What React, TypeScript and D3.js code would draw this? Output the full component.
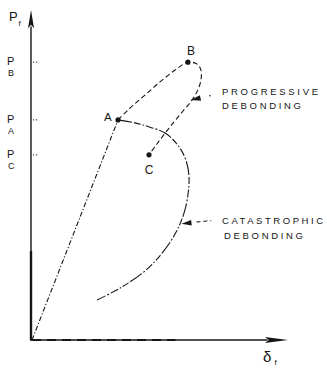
import React from "react";
import * as d3 from "d3";

// Fibre load Pf versus fibre displacement δf (arbitrary units)
const loadingX = [0, 3.36];
const loadingY = [0, 6.67];

// A → B → C : progressive debonding, loading then unloading path
const progressiveX = [3.36, 3.83, 4.41, 5.0, 5.59, 6.09, 6.45, 6.6, 6.6, 6.48, 6.25, 5.9, 5.55, 5.2, 4.88, 4.57];
const progressiveY = [6.67, 7.03, 7.42, 7.82, 8.18, 8.42, 8.36, 8.18, 7.88, 7.58, 7.27, 6.94, 6.61, 6.27, 5.94, 5.61];

// A → … : catastrophic debonding
const catastrophicX = [3.36, 4.02, 4.61, 5.2, 5.66, 5.98, 6.13, 6.09, 5.94, 5.63, 5.12, 4.41, 3.52, 2.54];
const catastrophicY = [6.67, 6.58, 6.45, 6.27, 5.94, 5.52, 5.0, 4.39, 3.85, 3.27, 2.67, 2.09, 1.61, 1.21];

// Characteristic points
const pointNames = ["A", "B", "C"];
const pointX = [3.36, 6.09, 4.57];
const pointY = [6.67, 8.42, 5.61];

// Load levels marked on the Pf axis (subscripts)
const tickSubs = ["B", "A", "C"];
const tickValues = [8.42, 6.67, 5.61];

// Annotations: [tipX, tipY, tailX, tailY]
const progressiveNote = ["PROGRESSIVE", "DEBONDING"];
const progressiveArrow = [6.2, 7.27, 6.95, 7.4];
const catastrophicNote = ["CATASTROPHIC", "DEBONDING"];
const catastrophicArrow = [5.84, 3.52, 7.0, 3.62];

const W = 327;
const H = 369;

export default function App() {
  const x = d3.scaleLinear().domain([0, 10]).range([32, 288]);
  const y = d3.scaleLinear().domain([0, 10]).range([340, 10]);

  const line = d3
    .line<[number, number]>()
    .x((d) => x(d[0]))
    .y((d) => y(d[1]))
    .curve(d3.curveCatmullRom.alpha(0.5));

  const zip = (xs: number[], ys: number[]) => xs.map((v, i) => [v, ys[i]] as [number, number]);

  const arrowHead = (a: number[], len = 10, half = 2.8) => {
    const tx = x(a[0]);
    const ty = y(a[1]);
    const fx = x(a[2]);
    const fy = y(a[3]);
    const dx = fx - tx;
    const dy = fy - ty;
    const n = Math.hypot(dx, dy);
    const ux = dx / n;
    const uy = dy / n;
    const bx = tx + ux * len;
    const by = ty + uy * len;
    const p = d3.path();
    p.moveTo(tx, ty);
    p.lineTo(bx - uy * half, by + ux * half);
    p.lineTo(bx + uy * half, by - ux * half);
    p.closePath();
    return { d: p.toString(), bx, by, fx, fy };
  };

  const pa = arrowHead(progressiveArrow);
  const ca = arrowHead(catastrophicArrow);

  const ink = "#161616";
  const font = "'Liberation Sans', Arial, sans-serif";

  const x0 = x(0);
  const y0 = y(0);

  return (
    <svg
      width={W}
      height={H}
      viewBox={`0 0 ${W} ${H}`}
      style={{ position: "absolute", left: 0, top: 0, background: "#fff" }}
    >
      {/* axes */}
      <line x1={x0 - 1} y1={y0} x2={x(9.2)} y2={y0} stroke={ink} strokeWidth={1.3} />
      <line x1={x0} y1={y0} x2={x(5.6)} y2={y0} stroke={ink} strokeWidth={2.2} strokeDasharray="9,6" />
      <path d={`M${x(10)},${y0} L${x(9.1)},${y0 - 3} L${x(9.25)},${y0} L${x(9.1)},${y0 + 3} Z`} fill={ink} />
      <line x1={x0 - 1} y1={y0 + 1} x2={x0 - 1} y2={y(9.5)} stroke={ink} strokeWidth={1.4} />
      <line x1={x0 - 1} y1={y0} x2={x0 - 1} y2={y(2.7)} stroke={ink} strokeWidth={2.4} />
      <path
        d={`M${x0 - 1},${y(10)} L${x0 - 4},${y(9.45)} L${x0 - 1},${y(9.55)} L${x0 + 2},${y(9.45)} Z`}
        fill={ink}
      />

      {/* axis titles */}
      <text x={9} y={21} fontFamily={font} fontSize={13} fill={ink}>
        P
      </text>
      <text x={18.5} y={26} fontFamily={font} fontSize={8} fill={ink}>
        f
      </text>
      <text x={263} y={362} fontFamily={font} fontSize={15} fill={ink}>
        δ
      </text>
      <text x={274.5} y={365} fontFamily={font} fontSize={8} fill={ink}>
        f
      </text>

      {/* load levels on the Pf axis */}
      {tickValues.map((v, i) => (
        <g key={i}>
          <line
            x1={x0 + 1}
            x2={x0 + 6}
            y1={y(v)}
            y2={y(v)}
            stroke={ink}
            strokeWidth={1}
            strokeDasharray="1.2,1.8"
          />
          <text x={7} y={y(v) + 3} fontFamily={font} fontSize={11} fill={ink}>
            P
          </text>
          <text x={8} y={y(v) + 14} fontFamily={font} fontSize={9} fill={ink}>
            {tickSubs[i]}
          </text>
        </g>
      ))}

      {/* linear loading O → A */}
      <path
        d={line(zip(loadingX, loadingY)) ?? ""}
        fill="none"
        stroke={ink}
        strokeWidth={1.1}
        strokeDasharray="5,2,1.2,2"
      />

      {/* catastrophic debonding */}
      <path
        d={line(zip(catastrophicX, catastrophicY)) ?? ""}
        fill="none"
        stroke={ink}
        strokeWidth={1.1}
        strokeDasharray="14,2,7,2,1.5,2,8,2,2,2"
      />

      {/* progressive debonding */}
      <path
        d={line(zip(progressiveX, progressiveY)) ?? ""}
        fill="none"
        stroke={ink}
        strokeWidth={1.1}
        strokeDasharray="5,3"
      />

      {/* points A, B, C */}
      {pointNames.map((name, i) => (
        <circle key={name} cx={x(pointX[i])} cy={y(pointY[i])} r={2.6} fill={ink} />
      ))}
      <text x={x(pointX[0]) - 14} y={y(pointY[0]) + 1} fontFamily={font} fontSize={11.5} fill={ink}>
        {pointNames[0]}
      </text>
      <text x={x(pointX[1]) + 3} y={y(pointY[1]) - 7} textAnchor="middle" fontFamily={font} fontSize={12} fill={ink}>
        {pointNames[1]}
      </text>
      <text x={x(pointX[2])} y={y(pointY[2]) + 19} textAnchor="middle" fontFamily={font} fontSize={12} fill={ink}>
        {pointNames[2]}
      </text>

      {/* annotation arrows */}
      <path d={pa.d} fill={ink} />
      <circle cx={pa.fx} cy={pa.fy} r={0.8} fill={ink} />
      <path d={ca.d} fill={ink} />
      <line
        x1={ca.bx + 5}
        y1={ca.by + (ca.fy - ca.by) * 0.3}
        x2={ca.fx}
        y2={ca.fy}
        stroke={ink}
        strokeWidth={1}
        strokeDasharray="4,3"
      />

      {/* annotation text */}
      <text x={222} y={y(7.4) - 1} fontFamily={font} fontSize={9.5} fill={ink} textLength={96} lengthAdjust="spacing">
        {progressiveNote[0]}
      </text>
      <text x={222} y={y(7.4) + 13} fontFamily={font} fontSize={9.5} fill={ink} textLength={79} lengthAdjust="spacing">
        {progressiveNote[1]}
      </text>
      <text x={222} y={y(3.62) + 3} fontFamily={font} fontSize={9.5} fill={ink} textLength={101} lengthAdjust="spacing">
        {catastrophicNote[0]}
      </text>
      <text x={224} y={y(3.62) + 18} fontFamily={font} fontSize={9.5} fill={ink} textLength={79} lengthAdjust="spacing">
        {catastrophicNote[1]}
      </text>
    </svg>
  );
}
